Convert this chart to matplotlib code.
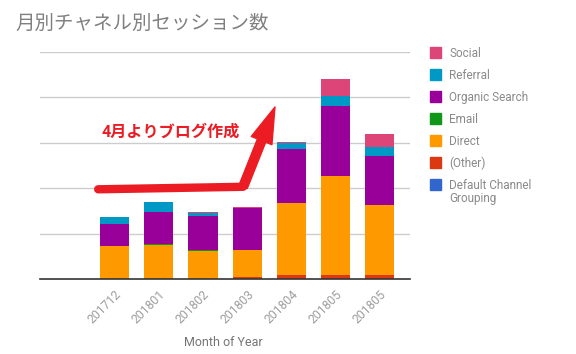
import matplotlib
matplotlib.use('Agg')
import numpy as np
from matplotlib import pyplot as plt
from matplotlib.patches import FancyArrowPatch, Rectangle

plt.rcParams['font.family'] = ['Roboto', 'Noto Sans CJK JP', 'DejaVu Sans']

# Datos (escala aproximada)
meses = ['', '201712', '201801', '201802', '201803', '201804', '201805', '201805']
other   = [0, 0, 0, 0, 5, 9, 9, 9]
direct  = [0, 73, 75, 62, 59, 158, 218, 154]
email   = [0, 0, 3, 3, 0, 0, 0, 0]
organic = [0, 48, 70, 75, 92, 119, 154, 108]
referral = [0, 15, 22, 5, 0, 13, 22, 20]
social  = [0, 0, 0, 3, 2, 2, 37, 29]

series = [('(Other)', other, '#dc3912'),
          ('Direct', direct, '#ff9900'),
          ('Email', email, '#109618'),
          ('Organic Search', organic, '#990099'),
          ('Referral', referral, '#0099c6'),
          ('Social', social, '#dd4477')]
leyenda = ['Social', 'Referral', 'Organic Search', 'Email', 'Direct', '(Other)',
           'Default Channel\nGrouping']
colores = {'Social': '#dd4477', 'Referral': '#0099c6', 'Organic Search': '#990099',
           'Email': '#109618', 'Direct': '#ff9900', '(Other)': '#dc3912',
           'Default Channel\nGrouping': '#3366cc'}

W, H = 576, 354
fig = plt.figure(figsize=(W / 100, H / 100), dpi=100)
ax = fig.add_axes([40 / W, (H - 279.3) / H, 370 / W, (279.3 - 52) / H])

x = np.arange(len(meses))
base = np.zeros(len(meses))
for nombre, vals, col in series:
    vals = np.array(vals, dtype=float)
    ax.bar(x, vals, 0.66, bottom=base, color=col, zorder=2)
    base += vals

ax.set_xlim(-0.686, 7.685)
ax.set_ylim(0, 500)
ax.set_yticks([100, 200, 300, 400, 500])
ax.yaxis.grid(True, color='#cccccc', lw=1)
ax.tick_params(axis='y', length=0, labelleft=False)
for s in ['top', 'right', 'left']:
    ax.spines[s].set_visible(False)
ax.spines['bottom'].set_color('#333333')
ax.spines['bottom'].set_linewidth(1.2)
ax.spines['bottom'].set_zorder(3)
ax.set_xticks(x)
ax.set_xticklabels(meses, rotation=45, ha='right', rotation_mode='anchor',
                   color='#9e9e9e', fontsize=8.8)
ax.tick_params(axis='x', length=0, pad=6)

# Titulo del eje x
fig.text(223 / W, 1 - 342 / H, 'Month of Year', color='#757575', fontsize=9,
         ha='center', va='center')

# Flecha y texto
rojo = '#ec1c24'
ax.plot([0.63, 3.91], [198, 203.5], color=rojo, lw=6, solid_capstyle='round', zorder=4)
ax.add_patch(FancyArrowPatch((3.91, 203.5), (4.63, 379),
                             arrowstyle='simple,head_length=1.3,head_width=0.8,tail_width=0.32',
                             mutation_scale=20, color=rojo, zorder=4, shrinkA=0, shrinkB=0))
ax.text(2.26, 325, '4月よりブログ作成', color=rojo, fontsize=11.6, fontweight='bold',
        ha='center', va='center', zorder=5)

# Titulo
fig.text(15 / W, 1 - 24 / H, '月別チャネル別セッション数', color='#808080',
         fontsize=14, ha='left', va='center')

# Leyenda
for i, nombre in enumerate(leyenda):
    yc = 52.7 + 22 * i
    fig.patches.append(Rectangle((430 / W, 1 - (yc + 5.5) / H), 11 / W, 11 / H,
                                 transform=fig.transFigure, color=colores[nombre]))
    fig.text(449 / W, 1 - (yc - 6) / H, nombre, color='#8a8a8a', fontsize=8.5,
             ha='left', va='top', linespacing=1.05)

fig.savefig('out.png', dpi=100)
